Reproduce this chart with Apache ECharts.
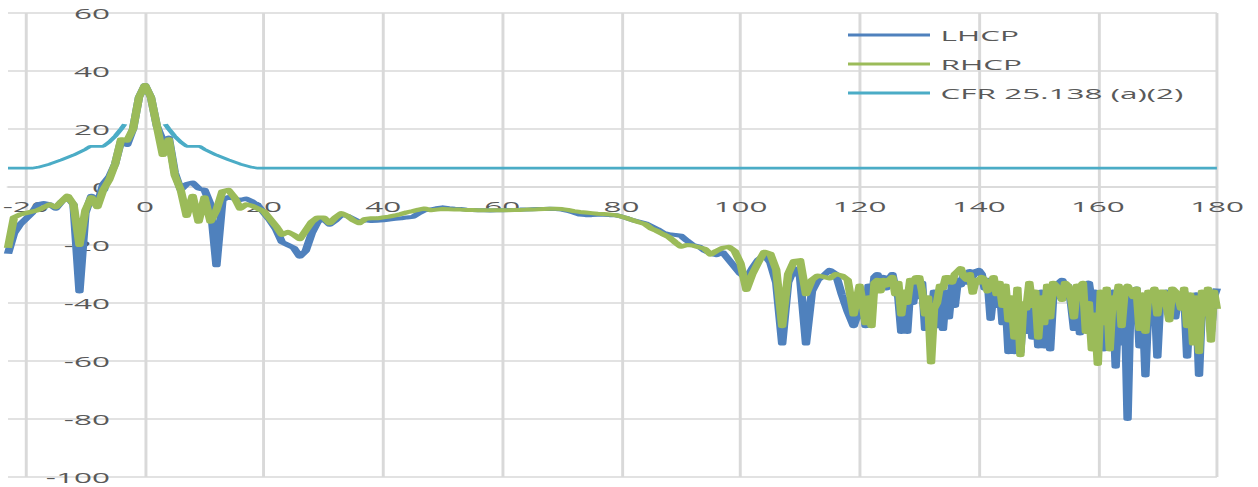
<!DOCTYPE html>
<html>
<head>
<meta charset="utf-8">
<script src="https://cdn.jsdelivr.net/npm/echarts@6/dist/echarts.min.js"></script>
<style>
html,body{margin:0;padding:0;background:#fff;overflow:hidden;}
#wrap{width:1258px;height:487px;overflow:hidden;position:relative;}
#chart{height:487px;transform-origin:0 0;}
</style>
</head>
<body>
<div id="wrap"><div id="chart"></div></div>
<script>
// ---- data ----
// angles: 1-degree steps from -23 to 119, then half-degree steps from 120 to 180
const angles = [];
for (let a = -23; a < 120; a++) angles.push(a);
for (let k = 240; k <= 360; k++) angles.push(k / 2);

const lhcp = [
// -23 .. -1
-23,-16,-13,-11,-9,-6,-5.5,-6,-7.5,-5,-3.5,-6,-36,-9,-3,-6,1,3.5,8,16,14.5,20,31,
// 0
35.2,
// 1 .. 20
31,21,16,17,5,-1,1,1.5,-0.5,-1,-6,-27,-4.5,-3.5,-4,-4.5,-4,-5,-6.5,-9,
// 21 .. 40
-11.5,-14.5,-19,-20,-21,-24,-22,-16,-12,-11,-13,-11.5,-9.5,-10,-11,-12,-11.5,-11.7,-11.6,-11.5,
// 41 .. 60
-11.2,-11,-10.8,-10.5,-10.3,-9,-8,-7.8,-7.3,-7,-7.3,-7.5,-7.6,-7.8,-7.9,-8,-8,-8.1,-8,-8,
// 61 .. 80
-7.9,-7.9,-7.8,-7.8,-7.7,-7.6,-7.6,-7.5,-7.6,-7.8,-8.2,-8.8,-9.5,-9.7,-9.7,-9.6,-9.6,-9.7,-9.7,-10.2,
// 81 .. 100
-10.8,-11.5,-12,-12.5,-13.5,-14.5,-15.8,-16.3,-16.5,-16.8,-18.5,-20,-20.5,-22,-23,-23.5,-22.5,-25,-27.5,-30,
// 101 .. 119
-31.5,-28,-25,-23.5,-26,-33,-54,-33,-28,-31,-54,-36,-32,-30.5,-28.6,-30,-37,-43,-48,
// 120 .. 129.5 (half steps)
-42,-38,-48,-34,-40,-31,-30,-33,-31,-35,-31.5,-30,-35,-38,-50,-40,-50,-35,-40,-32,
// 130 .. 139.5
-38,-33,-49,-40,-45,-36,-48,-38,-49,-36,-45,-34,-41,-32,-34,-30,-33,-29,-31,-29,
// 140 .. 149.5
-28.6,-30,-35,-32,-45.5,-36,-41,-34,-47,-38,-57,-40,-57,-38,-57,-42,-50,-36,-52,-38,
// 150 .. 159.5
-55,-36,-55,-40,-56,-38,-38,-33,-32,-34,-34,-40,-49,-36,-50.5,-38,-34,-33,-40,-36,
// 160 .. 169.5
-45,-40,-56,-38,-44,-36,-62,-40,-54,-36,-80,-38,-42,-35,-55,-38,-65,-40,-42,-36,
// 170 .. 180
-58.5,-38,-40,-36,-38,-37,-45,-38,-38,-36,-58.5,-40,-40,-37,-64.8,-40,-38,-36,-50,-38,-35
];

const rhcp = [
// -23 .. -1
-21,-10.5,-9.5,-9,-8.5,-8,-7,-6,-7,-5,-3,-6,-20,-8,-3.5,-7,-1,2.5,8,16.5,16,20,31,
// 0
35.2,
// 1 .. 20
31,21,11,16.5,4,-1,-10,-3,-12,-3.5,-12,-8,-1.5,-1,-3.5,-7.5,-6,-6.5,-7.5,-8.5,
// 21 .. 40
-11,-13.5,-16.5,-15.5,-16.5,-18,-15,-12,-10.5,-10.5,-12.5,-10.5,-9,-10,-11.5,-12.5,-11,-10.8,-10.8,-10.5,
// 41 .. 60
-10.2,-9.8,-9.3,-8.7,-8.3,-7.8,-7.4,-8,-7.8,-7.6,-7.7,-7.8,-7.8,-7.9,-7.9,-8,-8,-8,-8,-8,
// 61 .. 80
-8,-7.9,-7.9,-7.8,-7.8,-7.7,-7.6,-7.5,-7.5,-7.6,-7.9,-8.3,-8.6,-8.8,-9,-9.2,-9.3,-9.5,-9.7,-10.2,
// 81 .. 100
-10.8,-11.5,-12.2,-12.8,-14.3,-15.2,-16.3,-17.3,-19,-20.6,-20,-20.2,-20.8,-21.3,-23.3,-22,-21,-20.6,-22,-26.3,
// 101 .. 119
-35.5,-30,-26,-22.3,-23,-28.5,-48,-30,-25.5,-25.2,-37,-32,-30.5,-31,-31.5,-30,-30.5,-32,-44,
// 120 .. 129.5 (half steps)
-34,-40,-47,-38,-48,-33,-32,-36,-32,-34,-32,-31,-37,-33,-44,-36,-40,-32,-33,-31,
// 130 .. 139.5
-31,-36,-44,-38,-60.5,-42,-40,-34,-35,-31,-31,-33,-30,-29,-28,-31,-32,-30,-36.5,-32,
// 140 .. 149.5
-33,-31,-32,-36,-34,-31,-37,-33,-41,-34,-46,-38,-52,-35,-58,-40,-42,-33,-41,-36,
// 150 .. 159.5
-52,-38,-47,-34,-45,-33,-34,-36,-39,-33,-34,-38,-45,-34,-35,-33,-50,-40,-56,-44,
// 160 .. 169.5
-61,-36,-47,-35,-56,-38,-40,-34,-48,-36,-34,-36,-38,-35,-49,-37,-50,-36,-38,-35,
// 170 .. 180
-44,-36,-36,-40,-46,-35,-36,-38,-42,-35,-48,-37,-54,-38,-57,-36,-44,-35,-53,-36,-42
];

const cfrAngles = [-23,-19,-18,-16,-14,-12,-10,-9.2,-7,-6,-5,-4,-3.4,0,3.4,4,5,6,7,9.2,10,12,14,16,18,19,180];
const cfrValues = [6.5,6.5,6.8,7.9,9.4,11,13,14,14,15.5,17.5,20,21.7,null,21.7,20,17.5,15.5,14,14,13,11,9.4,7.9,6.8,6.5,6.5];

const xTicks = [-20,0,20,40,60,80,100,120,140,160,180];
const seriesNames = ['LHCP','RHCP','CFR 25.138 (a)(2)'];
const seriesColors = ['#4F81BD','#9BBB59','#4BACC6'];

// ---- layout (target pixels, compensated for horizontal stretch) ----
const S = 2.1;
const W = 1258, H = 487;
const plotL = 8, plotR = 1217, plotT = 13, plotB = 477;
const zeroX = 145, zeroY = 187;
const el = document.getElementById('chart');
el.style.width = (W / S) + 'px';
el.style.transform = 'scaleX(' + S + ')';

const chart = echarts.init(el, null, { renderer: 'svg' });
const txt = '#595959';
const gridC = '#d9d9d9';
const font = 'Open Sans';

chart.setOption({
  animation: false,
  backgroundColor: '#fff',
  grid: {
    left: plotL / S, right: (W - plotR) / S, top: plotT, bottom: H - plotB,
    containLabel: false, outerBoundsMode: 'none'
  },
  legend: {
    data: seriesNames,
    orient: 'vertical',
    left: 848 / S,
    top: 26,
    padding: 0,
    icon: 'rect',
    itemWidth: 82 / S,
    itemHeight: 3,
    itemGap: 11,
    textStyle: { color: txt, fontSize: 15, fontFamily: font, lineHeight: 18 }
  },
  xAxis: {
    type: 'value', min: -23, max: 180, position: 'bottom',
    offset: -(plotB - zeroY),
    axisLine: { show: true, onZero: false, lineStyle: { color: gridC, width: 1.5 } },
    axisTick: { show: false, customValues: xTicks },
    axisLabel: { customValues: xTicks, margin: 12, color: txt, fontSize: 15, fontFamily: font },
    splitLine: { show: true, lineStyle: { color: gridC, width: 1.4 } }
  },
  yAxis: {
    type: 'value', min: -100, max: 60, interval: 20, position: 'left',
    offset: -(zeroX - plotL) / S,
    axisLine: { show: false, onZero: false },
    axisTick: { show: false },
    axisLabel: { margin: 35 / S, color: txt, fontSize: 15, fontFamily: font },
    splitLine: { show: true, lineStyle: { color: gridC, width: 1.5 } }
  },
  series: [
    {
      name: seriesNames[0], type: 'line', symbol: 'none', showSymbol: false, z: 3,
      color: seriesColors[0],
      lineStyle: { width: 4, color: seriesColors[0], join: 'round' },
      data: angles.map((a, i) => [a, lhcp[i]])
    },
    {
      name: seriesNames[1], type: 'line', symbol: 'none', showSymbol: false, z: 4,
      color: seriesColors[1],
      lineStyle: { width: 4, color: seriesColors[1], join: 'round' },
      data: angles.map((a, i) => [a, rhcp[i]])
    },
    {
      name: seriesNames[2], type: 'line', symbol: 'none', showSymbol: false, z: 5,
      color: seriesColors[2], connectNulls: false,
      lineStyle: { width: 2.6, color: seriesColors[2] },
      data: cfrAngles.map((a, i) => [a, cfrValues[i]])
    }
  ]
});
</script>
</body>
</html>
